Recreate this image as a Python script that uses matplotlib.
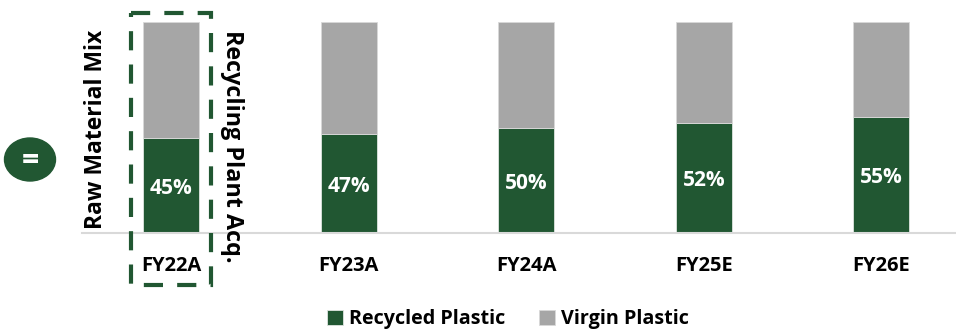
import matplotlib
matplotlib.use('Agg')
import matplotlib.pyplot as plt
from matplotlib.patches import Ellipse, Rectangle

years = ['FY22A', 'FY23A', 'FY24A', 'FY25E', 'FY26E']
recycled = [45, 47, 50, 52, 55]
virgin = [55, 53, 50, 48, 45]

GREEN = '#215732'
GREY = '#A6A6A6'
W, H = 956, 329

plt.rcParams['font.family'] = ['Open Sans', 'DejaVu Sans']
plt.rcParams['font.weight'] = 'bold'

fig = plt.figure(figsize=(W / 100, H / 100), dpi=100)
ax = fig.add_axes([82 / W, 1 - 233 / H, (W - 82) / W, 211 / H])

x = list(range(len(years)))
b1 = ax.bar(x, recycled, width=0.315, color=GREEN, edgecolor='#dfe5e0', linewidth=0.6, label='Recycled Plastic')
b2 = ax.bar(x, virgin, width=0.315, bottom=recycled, color=GREY, edgecolor='#d9d9d9', linewidth=0.6, label='Virgin Plastic')

for i, v in zip(x, recycled):
    ax.annotate(f'{v}%', (i, v / 2), xytext=(0, -2), textcoords='offset points', color='white',
                ha='center', va='center', fontsize=15, fontweight='bold')

ax.set_xlim(-0.5014, 4.42)
ax.set_ylim(0, 100)
ax.set_yticks([])
ax.set_xticks(x)
ax.set_xticklabels(years, fontsize=14.5, fontweight='bold')
ax.tick_params(axis='x', length=0, pad=16.5)
for s in ['top', 'left', 'right']:
    ax.spines[s].set_visible(False)
ax.spines['bottom'].set_color('#D9D9D9')
ax.spines['bottom'].set_linewidth(1.5)

ax.legend(handles=[b1, b2], loc='center', bbox_to_anchor=(508 / W, 1 - 319 / H),
          bbox_transform=fig.transFigure, ncol=2, frameon=False, fontsize=14.2,
          handlelength=0.8, handleheight=0.8, handletextpad=0.3, columnspacing=1.7,
          borderpad=0, borderaxespad=0)

# pixel-space overlay for the callout box, badge and rotated notes
over = fig.add_axes([0, 0, 1, 1], facecolor='none')
over.set_xlim(0, W)
over.set_ylim(H, 0)
over.axis('off')
over.add_patch(Rectangle((131.5, 13), 80, 272, fill=False, edgecolor=GREEN,
                         linewidth=3, linestyle=(0, (4.6, 3.4))))
over.add_patch(Ellipse((30, 159.5), 51, 43, color=GREEN))
over.text(30, 161, '=', color='white', ha='center', va='center', fontsize=22, fontweight='bold')
over.text(96, 129, 'Raw Material Mix', rotation=90, ha='center', va='center', fontsize=16.5, fontweight='bold')
over.text(232, 146, 'Recycling Plant Acq.', rotation=270, ha='center', va='center', fontsize=16.8, fontweight='bold')

fig.savefig('out.png', dpi=100)
